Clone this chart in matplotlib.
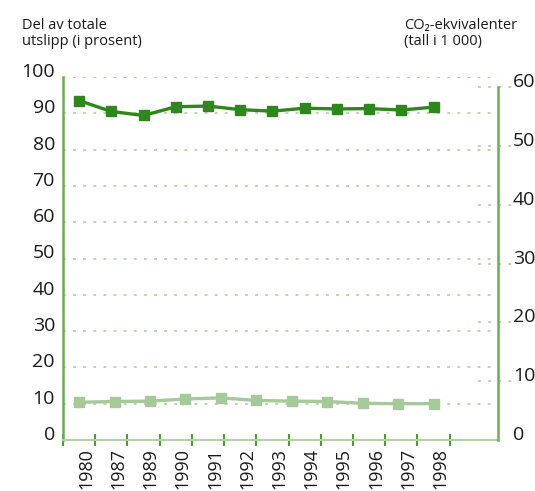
import numpy as np
import matplotlib
matplotlib.use('Agg')
import matplotlib.pyplot as plt
import matplotlib.transforms as mtransforms
from matplotlib.lines import Line2D

plt.rcParams['font.family'] = ['Open Sans', 'DejaVu Sans']

# Data
years = ['1980', '1987', '1989', '1990', '1991', '1992', '1993', '1994',
         '1995', '1996', '1997', '1998']
andel_mork = [93.5, 90.5, 89.4, 91.8, 92.0, 91.0, 90.6, 91.4, 91.2, 91.3, 90.9, 91.7]
andel_lys = [10.4, 10.6, 10.7, 11.3, 11.6, 10.9, 10.7, 10.6, 10.1, 10.0, 10.0]
venstre_ticks = [0, 10, 20, 30, 40, 50, 60, 70, 80, 90, 100]
hoyre_ticks = [0, 10, 20, 30, 40, 50, 60]

mork = '#2f861c'
lys = '#a6c99a'
spine_col = '#6aaa5a'
grid_col = '#b9d2ab'

fig = plt.figure(figsize=(5.35, 4.91), dpi=100)
ax = fig.add_axes([63 / 535, 1 - 440 / 491, 435 / 535, 363 / 491])

x = np.arange(len(years))
# the light series has one point less, it is spread over the same width
x_lys = np.linspace(0, len(years) - 1, len(andel_lys))

ax.plot(x, andel_mork, color=mork, lw=2.4, marker='s', ms=6.5, zorder=4)
ax.plot(x_lys, andel_lys, color=lys, lw=2.4, marker='s', ms=6.5, zorder=4)

ax.set_xlim(-0.5, 13.0)
ax.set_ylim(0, 100)

# dotted grid
for v in venstre_ticks[1:]:
    ax.axhline(v, color=grid_col, lw=1.3, ls=(0, (1.6, 4)), zorder=1)

# left axis labels sit on the value line
ax.set_yticks(venstre_ticks)
ax.set_yticklabels([])
ax.tick_params(axis='y', length=0)
for v in venstre_ticks:
    ax.text(-0.75, v, str(v), ha='right', va='baseline', fontsize=14,
            color='#1a1a1a', clip_on=False)

# x ticks between categories, labels centred on categories
ax.set_xticks(np.arange(-0.5, len(years), 1.0))
ax.set_xticklabels([])
ax.tick_params(axis='x', direction='inout', length=9, width=1.5, color='#4f9a3a')
ax.set_xticks(x, minor=True)
ax.set_xticklabels(years, minor=True, rotation=90, fontsize=13, color='#1a1a1a')
ax.tick_params(axis='x', which='minor', length=0, pad=6)
offset = mtransforms.ScaledTranslation(7 / 100, 0, fig.dpi_scale_trans)
for lab in ax.xaxis.get_minorticklabels():
    lab.set_transform(lab.get_transform() + offset)

for s in ['top', 'right']:
    ax.spines[s].set_visible(False)
ax.spines['left'].set_color(spine_col)
ax.spines['left'].set_linewidth(1.8)
ax.spines['bottom'].set_color('#b0d3a2')
ax.spines['bottom'].set_linewidth(1.5)

# right axis 0-60
ax2 = ax.twinx()
ax2.set_ylim(0, 60 * 363 / 353)
for s in ['top', 'left', 'bottom']:
    ax2.spines[s].set_visible(False)
ax2.spines['right'].set_bounds(0, 60)
ax2.spines['right'].set_color(spine_col)
ax2.spines['right'].set_linewidth(1.8)
ax2.set_yticks([])
trans2 = mtransforms.blended_transform_factory(ax2.transAxes, ax2.transData)
for v in hoyre_ticks:
    if v > 0:
        ax2.add_line(Line2D([415 / 435, 449 / 435], [v, v], transform=trans2,
                            color=grid_col, lw=1.3, ls=(0, (1.6, 4)), clip_on=False))
    ax2.text(1.0 + 15 / 435, v, str(v), ha='left', va='baseline', fontsize=14,
             color='#1a1a1a', transform=trans2, clip_on=False)

# axis headings
fig.text(22 / 535, 1 - 29 / 491, 'Del av totale', fontsize=10.5,
         color='#1a1a1a', ha='left', va='baseline')
fig.text(22 / 535, 1 - 45 / 491, 'utslipp (i prosent)', fontsize=10.5,
         color='#1a1a1a', ha='left', va='baseline')
fig.text(404 / 535, 1 - 29 / 491, 'CO\u2082-ekvivalenter', fontsize=10.5,
         color='#1a1a1a', ha='left', va='baseline')
fig.text(404 / 535, 1 - 45 / 491, '(tall i 1 000)', fontsize=10.5,
         color='#1a1a1a', ha='left', va='baseline')

fig.savefig('out.png', dpi=100)
